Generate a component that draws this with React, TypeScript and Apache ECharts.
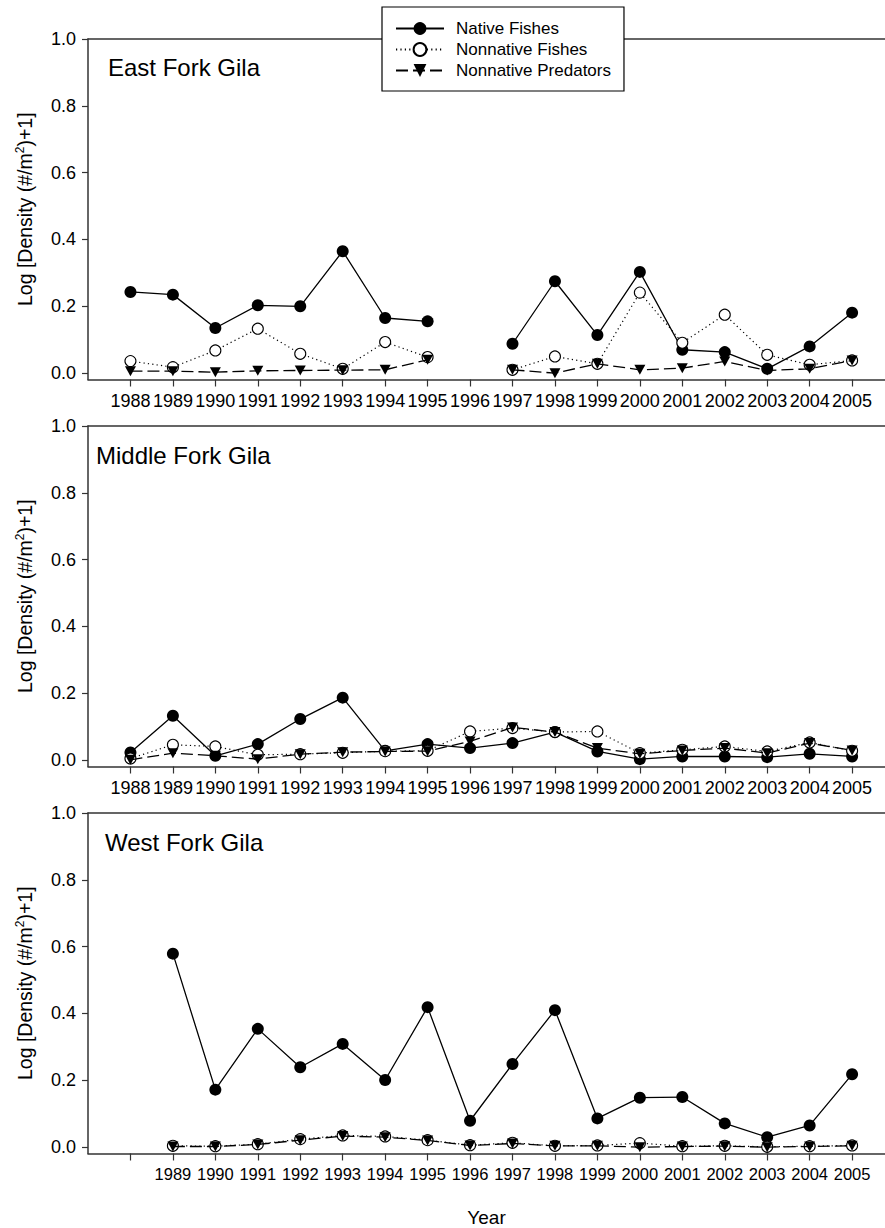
import React, { useEffect, useRef } from "react";
import * as echarts from "echarts";

// Survey years and the log-transformed fish densities for each fork of the Gila
const years = [1988, 1989, 1990, 1991, 1992, 1993, 1994, 1995, 1996, 1997, 1998, 1999, 2000, 2001, 2002, 2003, 2004, 2005];

const eastNative = [0.243, 0.235, 0.135, 0.203, 0.2, 0.365, 0.165, 0.155, null, 0.088, 0.275, 0.114, 0.303, 0.07, 0.063, 0.013, 0.08, 0.181];
const eastNonnative = [0.036, 0.018, 0.068, 0.133, 0.058, 0.013, 0.093, 0.048, null, 0.01, 0.05, 0.028, 0.241, 0.091, 0.175, 0.055, 0.025, 0.038];
const eastPredators = [0.006, 0.006, 0.003, 0.007, 0.008, 0.009, 0.01, 0.04, null, 0.01, 0.0, 0.028, 0.01, 0.015, 0.035, 0.008, 0.013, 0.038];

const middleNative = [0.023, 0.133, 0.013, 0.048, 0.123, 0.187, 0.028, 0.048, 0.036, 0.051, 0.084, 0.026, 0.003, 0.011, 0.011, 0.009, 0.019, 0.011];
const middleNonnative = [0.005, 0.046, 0.041, 0.016, 0.018, 0.022, 0.027, 0.028, 0.086, 0.096, 0.084, 0.086, 0.021, 0.031, 0.041, 0.026, 0.053, 0.028];
const middlePredators = [0.001, 0.021, 0.013, 0.003, 0.018, 0.024, 0.026, 0.027, 0.056, 0.098, 0.084, 0.036, 0.019, 0.029, 0.036, 0.021, 0.051, 0.029];

const westNative = [null, 0.579, 0.172, 0.354, 0.239, 0.309, 0.201, 0.419, 0.079, 0.249, 0.41, 0.086, 0.148, 0.15, 0.071, 0.03, 0.065, 0.218];
const westNonnative = [null, 0.004, 0.003, 0.009, 0.024, 0.035, 0.032, 0.021, 0.006, 0.013, 0.004, 0.005, 0.012, 0.003, 0.004, 0.001, 0.003, 0.005];
const westPredators = [null, 0.002, 0.002, 0.008, 0.021, 0.033, 0.03, 0.02, 0.005, 0.011, 0.004, 0.004, 0.0, 0.002, 0.003, 0.0, 0.002, 0.004];

const yTicks = [0, 0.2, 0.4, 0.6, 0.8, 1.0];
const westLabelYears = [1989, 1990, 1991, 1992, 1993, 1994, 1995, 1996, 1997, 1998, 1999, 2000, 2001, 2002, 2003, 2004, 2005];

const seriesNames = ["Native Fishes", "Nonnative Fishes", "Nonnative Predators"];

const FONT = "'Liberation Sans', Arial, Helvetica, sans-serif";
const INK = "#000";
const AXIS = "#333";
const TRIANGLE = "path://M0,0L10,0L5,9Z";

const pairs = (vals: (number | null)[]) => years.map((y, i) => [y, vals[i]]);

export default function App() {
  const ref = useRef<HTMLDivElement>(null);

  useEffect(() => {
    document.body.style.margin = "0";
    const chart = echarts.init(ref.current!, null, { renderer: "svg" });

    const panels = [
      { title: "East Fork Gila", titleLeft: 108, titleTop: 55, top: 39, data: [eastNative, eastNonnative, eastPredators], labels: years, labelSize: 18 },
      { title: "Middle Fork Gila", titleLeft: 96, titleTop: 443, top: 426, data: [middleNative, middleNonnative, middlePredators], labels: years, labelSize: 18 },
      { title: "West Fork Gila", titleLeft: 105, titleTop: 830, top: 813, data: [westNative, westNonnative, westPredators], labels: westLabelYears, labelSize: 16.5 },
    ];

    const xMin = 1987;
    const xMax = 2005.775;
    const yMin = -0.019;

    const grids: any[] = [];
    const xAxes: any[] = [];
    const yAxes: any[] = [];
    const series: any[] = [];

    panels.forEach((p, k) => {
      grids.push({ left: 88, top: p.top, width: 797, height: 340.5 });
      // bottom year axis
      xAxes.push({
        type: "value",
        gridIndex: k,
        min: xMin,
        max: xMax,
        position: "bottom",
        splitLine: { show: false },
        axisLine: { show: true, onZero: false, lineStyle: { color: AXIS, width: 1.5 } },
        axisTick: { show: true, inside: false, length: 7, customValues: years, lineStyle: { color: AXIS, width: 1.2 } },
        axisLabel: {
          show: true,
          customValues: p.labels,
          margin: 12,
          color: INK,
          fontFamily: FONT,
          fontSize: p.labelSize,
          formatter: (v: number) => String(v),
        },
        ...(k === 2
          ? {
              name: "Year",
              nameLocation: "middle",
              nameGap: 54,
              nameTextStyle: { color: INK, fontFamily: FONT, fontSize: 19 },
            }
          : {}),
      });
      // frame line along the top of the panel
      xAxes.push({
        type: "value",
        gridIndex: k,
        min: xMin,
        max: xMax,
        position: "top",
        splitLine: { show: false },
        axisLine: { show: true, onZero: false, lineStyle: { color: AXIS, width: 1.5 } },
        axisTick: { show: false },
        axisLabel: { show: false },
      });
      yAxes.push({
        type: "value",
        gridIndex: k,
        min: yMin,
        max: 1.0,
        splitLine: { show: false },
        axisLine: { show: true, onZero: false, lineStyle: { color: AXIS, width: 1.5 } },
        axisTick: { show: true, inside: false, length: 6, customValues: yTicks, lineStyle: { color: AXIS, width: 1.2 } },
        axisLabel: {
          show: true,
          customValues: yTicks,
          margin: 12,
          color: INK,
          fontFamily: FONT,
          fontSize: 18,
          formatter: (v: number) => v.toFixed(1),
        },
        name: "Log [Density (#/m{sup|2})+1]",
        nameLocation: "middle",
        nameRotate: 90,
        nameGap: 52,
        nameTextStyle: {
          color: INK,
          fontFamily: FONT,
          fontSize: 19.5,
          rich: { sup: { fontSize: 12, verticalAlign: "top", color: INK, fontFamily: FONT, lineHeight: 22 } },
        },
      });

      const [nat, non, pred] = p.data;
      series.push({
        name: seriesNames[0],
        type: "line",
        xAxisIndex: k * 2,
        yAxisIndex: k,
        data: pairs(nat),
        connectNulls: false,
        symbol: "circle",
        symbolSize: 12,
        itemStyle: { color: INK, borderColor: INK, borderWidth: 0 },
        lineStyle: { color: INK, width: 1.3, type: "solid" },
        z: 3,
      });
      series.push({
        name: seriesNames[1],
        type: "line",
        xAxisIndex: k * 2,
        yAxisIndex: k,
        data: pairs(non),
        connectNulls: false,
        symbol: "circle",
        symbolSize: 11,
        showSymbol: true,
        itemStyle: { color: "#fff", borderColor: INK, borderWidth: 1.1 },
        lineStyle: { color: INK, width: 1.2, type: [1.2, 3.2] },
        z: 4,
      });
      series.push({
        name: seriesNames[2],
        type: "line",
        xAxisIndex: k * 2,
        yAxisIndex: k,
        data: pairs(pred),
        connectNulls: false,
        symbol: TRIANGLE,
        symbolSize: [11, 10],
        symbolKeepAspect: false,
        itemStyle: { color: INK, borderColor: INK, borderWidth: 0 },
        lineStyle: { color: INK, width: 1.3, type: [12, 5] },
        z: 5,
      });
    });

    const option: any = {
      animation: false,
      backgroundColor: "#fff",
      textStyle: { fontFamily: FONT },
      title: panels.map((p) => ({
        text: p.title,
        left: p.titleLeft,
        top: p.titleTop,
        padding: 0,
        textStyle: { color: INK, fontFamily: FONT, fontSize: 24, fontWeight: "normal" },
      })),
      legend: {
        data: seriesNames,
        orient: "vertical",
        left: 382,
        top: 7,
        padding: [13, 13, 12, 13],
        itemWidth: 48,
        itemHeight: 16,
        itemGap: 4,
        backgroundColor: "#fff",
        borderColor: INK,
        borderWidth: 1.2,
        borderRadius: 0,
        z: 10,
        textStyle: { color: INK, fontFamily: FONT, fontSize: 17, lineHeight: 17, padding: [0, 0, 0, 7] },
      },
      grid: grids,
      xAxis: xAxes,
      yAxis: yAxes,
      series,
    };

    chart.setOption(option);
    return () => chart.dispose();
  }, []);

  return <div ref={ref} style={{ width: 885, height: 1228 }} />;
}
